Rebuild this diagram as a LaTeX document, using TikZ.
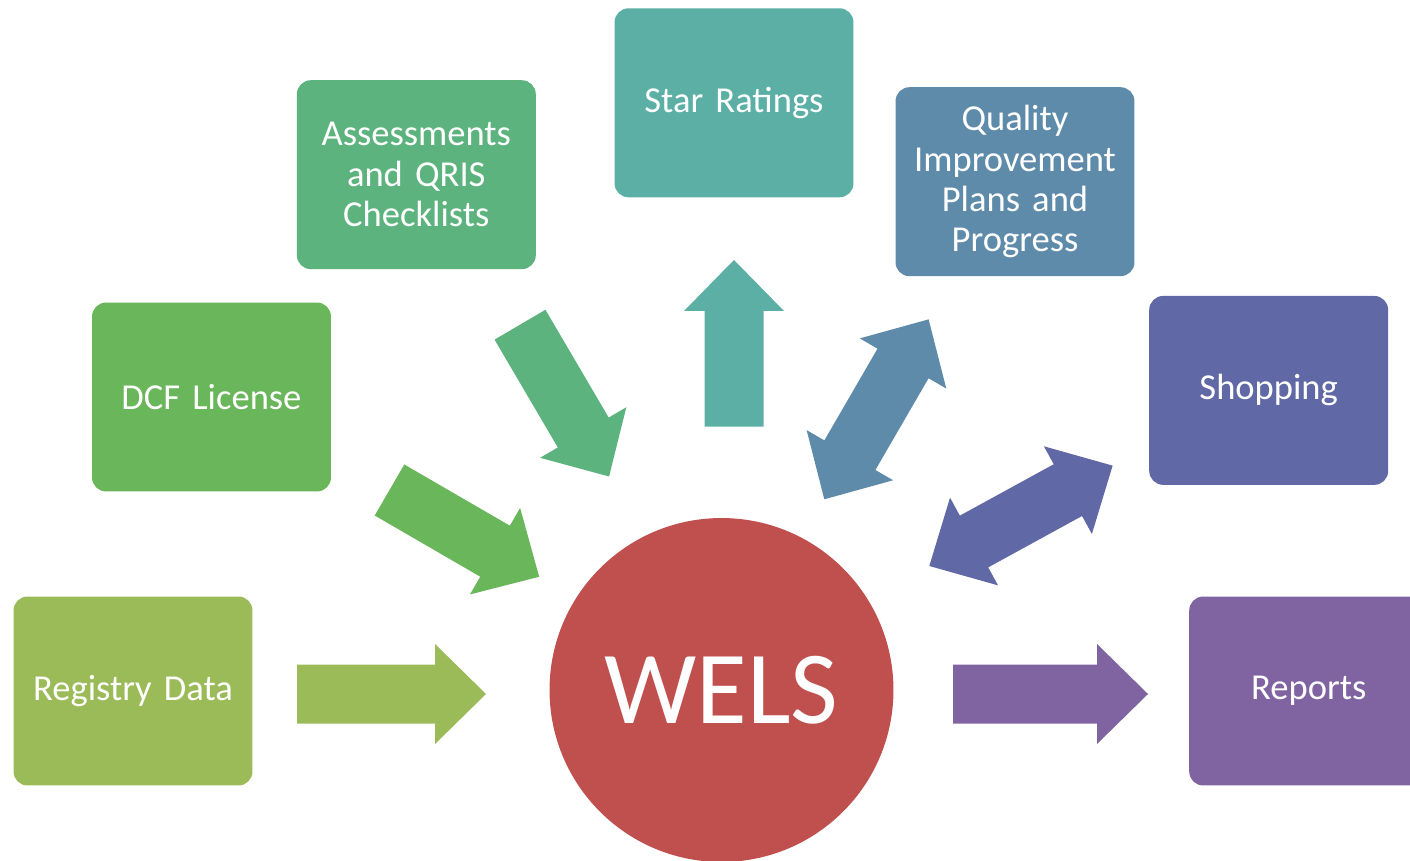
\documentclass[tikz,border=0pt]{standalone}
\usepackage{fontspec}
\setmainfont{Carlito}
\usetikzlibrary{positioning}
\definecolor{registrygreen}{HTML}{9BBB59}
\definecolor{dcfgreen}{HTML}{6AB65A}
\definecolor{qrisgreen}{HTML}{5DB37E}
\definecolor{starteal}{HTML}{5BAFA5}
\definecolor{qipblue}{HTML}{5F8BAB}
\definecolor{shopblue}{HTML}{6068A6}
\definecolor{reportpurple}{HTML}{8064A1}
\definecolor{welsred}{HTML}{C0504D}
\tikzset{
      sourcebox/.style={
        rounded corners=0.28cm,
        draw=none,
        minimum width=4.78cm,
        minimum height=3.78cm,
        text width=4.6cm,
        align=center,
        inner sep=0pt,
        text=white,
        font=\fontsize{20.8}{23}\selectfont
      },
      hubcircle/.style={
        circle,
        fill=welsred,
        minimum size=6.88cm,
        inner sep=0pt,
        text=white,
        font=\fontsize{59}{60}\selectfont
      }
    }
% block arrows: colour, tail point, angle, length (in px units)
\newcommand{\fatarrow}[4]{%
  \fill[#1, shift={#2}, rotate=#3] (0,-29.5) -- ({#4-51},-29.5) -- ({#4-51},-50) -- (#4,0)
    -- ({#4-51},50) -- ({#4-51},29.5) -- (0,29.5) -- cycle;}
\newcommand{\twinarrow}[4]{%
  \fill[#1, shift={#2}, rotate=#3] (0,0) -- (51,-50) -- (51,-29.5) -- ({#4-51},-29.5) -- ({#4-51},-50)
    -- (#4,0) -- ({#4-51},50) -- ({#4-51},29.5) -- (51,29.5) -- (51,50) -- cycle;}

\begin{document}
\begin{tikzpicture}[x=0.02cm,y=-0.02cm]
    \useasboundingbox (0,0) rectangle (1410,861);
    \clip (0,0) rectangle (1410,861);
    \node[sourcebox, fill=registrygreen] (registry) at (133,691) {Registry Data};
    \node[sourcebox, fill=dcfgreen] (dcf) at (211.5,397) {DCF License};
    \node[sourcebox, fill=qrisgreen] (qris) at (416.3,174.7) {Assessments\\and QRIS\\Checklists};
    \node[sourcebox, fill=starteal] (stars) at (734,102.8) {Star Ratings};
    \node[sourcebox, fill=qipblue] (qip) at (1015,181.7) {Quality\\Improvement\\Plans and\\Progress};
    \node[sourcebox, fill=shopblue] (shopping) at (1268.7,390.4) {Shopping};
    \node[sourcebox, fill=reportpurple] (reports) at (1308.7,691) {Reports};
    \node[hubcircle] (wels) at (721.5,690) {WELS};
    % inputs
    \fatarrow{registrygreen}{(297,694)}{0}{189}
    \fatarrow{dcfgreen}{(389.5,490)}{-30.1}{173}
    \fatarrow{qrisgreen}{(520,324.7)}{-59.6}{176}
    % outputs
    \fatarrow{starteal}{(734,426.7)}{90}{166.7}
    \twinarrow{qipblue}{(824.3,499.3)}{59.9}{208}
    \twinarrow{shopblue}{(929.3,566)}{28.7}{209}
    \fatarrow{reportpurple}{(953,694)}{0}{195}
    \end{tikzpicture}
\end{document}
